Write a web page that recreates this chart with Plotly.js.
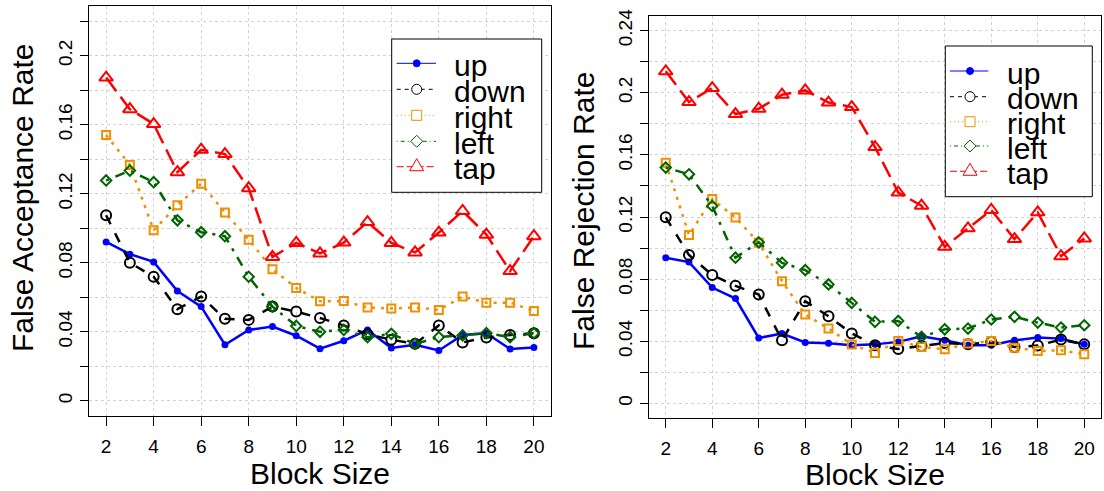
<!DOCTYPE html>
<html>
<head>
<meta charset="utf-8">
<script src="https://cdn.plot.ly/plotly-3.0.1.min.js"></script>
<style>
  html, body { margin: 0; padding: 0; background: #fff; }
  #chart { width: 1104px; height: 491px; }
</style>
</head>
<body>
<div id="chart"></div>
<script>
// Block sizes shared by both panels
const blockSize = [2, 3, 4, 5, 6, 7, 8, 9, 10, 11, 12, 13, 14, 15, 16, 17, 18, 19, 20];

// False acceptance rate per gesture
const farUp    = [0.0921, 0.0850, 0.0805, 0.0636, 0.0546, 0.0325, 0.0411, 0.0430, 0.0377, 0.0302, 0.0348, 0.0411, 0.0306, 0.0325, 0.0292, 0.0382, 0.0392, 0.0300, 0.0309];
const farDown  = [0.1075, 0.0800, 0.0719, 0.0531, 0.0604, 0.0475, 0.0469, 0.0546, 0.0517, 0.0480, 0.0437, 0.0386, 0.0354, 0.0330, 0.0437, 0.0338, 0.0367, 0.0382, 0.0392];
const farRight = [0.1540, 0.1367, 0.0988, 0.1133, 0.1258, 0.1092, 0.0934, 0.0763, 0.0654, 0.0577, 0.0578, 0.0541, 0.0535, 0.0541, 0.0527, 0.0604, 0.0569, 0.0569, 0.0521];
const farLeft  = [0.1277, 0.1334, 0.1267, 0.1046, 0.0977, 0.0954, 0.0719, 0.0546, 0.0434, 0.0400, 0.0411, 0.0369, 0.0388, 0.0330, 0.0369, 0.0379, 0.0392, 0.0369, 0.0392];
const farTap   = [0.1873, 0.1690, 0.1604, 0.1325, 0.1455, 0.1430, 0.1232, 0.0834, 0.0915, 0.0854, 0.0917, 0.1036, 0.0915, 0.0860, 0.0975, 0.1100, 0.0963, 0.0752, 0.0954];

// False rejection rate per gesture
const frrUp    = [0.0938, 0.0910, 0.0746, 0.0675, 0.0421, 0.0450, 0.0392, 0.0387, 0.0374, 0.0380, 0.0396, 0.0432, 0.0406, 0.0374, 0.0374, 0.0406, 0.0424, 0.0417, 0.0380];
const frrDown  = [0.1198, 0.0955, 0.0826, 0.0757, 0.0701, 0.0406, 0.0658, 0.0561, 0.0450, 0.0374, 0.0350, 0.0370, 0.0389, 0.0380, 0.0396, 0.0363, 0.0372, 0.0411, 0.0380];
const frrRight = [0.1550, 0.1084, 0.1316, 0.1196, 0.1034, 0.0787, 0.0572, 0.0482, 0.0379, 0.0325, 0.0402, 0.0363, 0.0348, 0.0385, 0.0402, 0.0359, 0.0338, 0.0342, 0.0316];
const frrLeft  = [0.1518, 0.1475, 0.1271, 0.0938, 0.1037, 0.0905, 0.0858, 0.0766, 0.0647, 0.0525, 0.0531, 0.0428, 0.0477, 0.0482, 0.0540, 0.0557, 0.0520, 0.0488, 0.0503];
const frrTap   = [0.2138, 0.1940, 0.2030, 0.1863, 0.1897, 0.1987, 0.2015, 0.1937, 0.1908, 0.1650, 0.1357, 0.1273, 0.1008, 0.1127, 0.1245, 0.1058, 0.1230, 0.0948, 0.1062];

const gestureNames = ['up', 'down', 'right', 'left', 'tap'];

// Axis ticks
const xTickVals = [2, 4, 6, 8, 10, 12, 14, 16, 18, 20];
const xTickText = ['2', '4', '6', '8', '10', '12', '14', '16', '18', '20'];
const farTickVals = [0, 0.02, 0.04, 0.06, 0.08, 0.10, 0.12, 0.14, 0.16, 0.18, 0.20, 0.22];
const farTickText = ['0', '', '0.04', '', '0.08', '', '0.12', '', '0.16', '', '0.2', ''];
const frrTickVals = [0, 0.02, 0.04, 0.06, 0.08, 0.10, 0.12, 0.14, 0.16, 0.18, 0.20, 0.22, 0.24];
const frrTickText = ['0', '', '0.04', '', '0.08', '', '0.12', '', '0.16', '', '0.2', '', '0.24'];

// Per-gesture styling
const styles = [
  { color: '#0000FF', dash: 'solid',             symbol: 'circle',            size: 7,  lw: 0 },
  { color: '#000000', dash: '10px,10px',         symbol: 'circle-open',       size: 10, lw: 2 },
  { color: '#F09000', dash: '3px,6px',           symbol: 'square-open',       size: 8,  lw: 2 },
  { color: '#006400', dash: '3px,7px,10px,7px',  symbol: 'diamond-open',      size: 8,  lw: 2 },
  { color: '#FF0000', dash: '17px,7px',          symbol: 'triangle-up-open',  size: 12, lw: 2 }
];

const farSeries = [farUp, farDown, farRight, farLeft, farTap];
const frrSeries = [frrUp, frrDown, frrRight, frrLeft, frrTap];

function makeTraces(series, xa, ya) {
  return series.map((vals, i) => ({
    type: 'scatter', mode: 'lines+markers',
    x: blockSize, y: vals, xaxis: xa, yaxis: ya,
    name: gestureNames[i], showlegend: false,
    line: { color: styles[i].color, width: 2.5, dash: styles[i].dash },
    marker: { symbol: styles[i].symbol, size: styles[i].size, color: styles[i].color,
              line: { color: styles[i].color, width: styles[i].lw } }
  }));
}

const traces = makeTraces(farSeries, 'x', 'y').concat(makeTraces(frrSeries, 'x2', 'y2'));

const W = 1104, H = 491;
const px = v => v / W;
const py = v => 1 - v / H;

const tickFont = { family: 'Liberation Sans, Arial, sans-serif', size: 19, color: '#000' };
const titleFont = { family: 'Liberation Sans, Arial, sans-serif', size: 30, color: '#000' };

function xAxis(domain, anchor) {
  return {
    domain: domain, anchor: anchor, range: [1.28, 20.72],
    tickmode: 'array', tickvals: xTickVals, ticktext: xTickText,
    ticks: 'outside', ticklen: 9, tickwidth: 1, tickcolor: '#000',
    ticklabelstandoff: 4,
    showline: true, linecolor: '#000', linewidth: 1, mirror: true,
    showgrid: true, gridcolor: '#D3D3D3', griddash: 'dot', gridwidth: 1,
    zeroline: false, tickfont: tickFont,
    title: { text: 'Block Size', font: titleFont, standoff: 5 }
  };
}
function yAxis(domain, anchor, range, vals, text) {
  return {
    domain: domain, anchor: anchor, range: range,
    tickmode: 'array', tickvals: vals, ticktext: text, tickangle: -90,
    ticks: 'outside', ticklen: 8, tickwidth: 1, tickcolor: '#000',
    showline: true, linecolor: '#000', linewidth: 1, mirror: true,
    showgrid: true, gridcolor: '#D3D3D3', griddash: 'dot', gridwidth: 1,
    zeroline: false, tickfont: tickFont
  };
}

// Hand-drawn legend boxes, keys and labels (in pixel positions on the page)
const shapes = [];
const annotations = [];
function addLegend(box, keyX0, keyX1, markX, textX, rows) {
  shapes.push({ type: 'rect', xref: 'paper', yref: 'paper',
    x0: px(box[0]), x1: px(box[1]), y0: py(box[2]), y1: py(box[3]),
    line: { color: '#000', width: 1 }, fillcolor: 'rgba(255,255,255,1)', layer: 'above' });
  rows.forEach((ry, i) => {
    const st = styles[i];
    shapes.push({ type: 'line', xref: 'paper', yref: 'paper',
      x0: px(keyX0), x1: px(keyX1), y0: py(ry), y1: py(ry),
      line: { color: st.color, width: 1, dash: ['solid', '4px,4px', '1px,3px', '1px,3px,4px,3px', '7px,3px'][i] },
      layer: 'above' });
    const base = { xref: 'paper', yref: 'paper', xsizemode: 'pixel', ysizemode: 'pixel',
      xanchor: px(markX), yanchor: py(ry), layer: 'above' };
    if (i === 0) {
      shapes.push(Object.assign({}, base, { type: 'circle', x0: -3.5, x1: 3.5, y0: -3.5, y1: 3.5,
        fillcolor: st.color, line: { color: st.color, width: 1 } }));
    } else if (i === 1) {
      shapes.push(Object.assign({}, base, { type: 'circle', x0: -5, x1: 5, y0: -5, y1: 5,
        fillcolor: '#fff', line: { color: st.color, width: 1 } }));
    } else if (i === 2) {
      shapes.push(Object.assign({}, base, { type: 'rect', x0: -5, x1: 5, y0: -5, y1: 5,
        fillcolor: '#fff', line: { color: st.color, width: 1 } }));
    } else if (i === 3) {
      shapes.push(Object.assign({}, base, { type: 'path', path: 'M-6,0 L0,6 L6,0 L0,-6 Z',
        fillcolor: '#fff', line: { color: st.color, width: 1 } }));
    } else {
      shapes.push(Object.assign({}, base, { type: 'path', path: 'M-7,-4 L7,-4 L0,8 Z',
        fillcolor: '#fff', line: { color: st.color, width: 1 } }));
    }
    annotations.push({ xref: 'paper', yref: 'paper', x: px(textX), y: py(ry + 2),
      xanchor: 'left', yanchor: 'middle', showarrow: false, text: gestureNames[i],
      font: titleFont });
  });
}
addLegend([391.7, 541.7, 39, 192.3], 396.7, 436, 416.7, 452, [63.3, 89.3, 115.3, 141.3, 166.7]);
addLegend([945.3, 1092.3, 46, 196.7], 950, 988.3, 970, 1004.5, [71, 96.7, 121.7, 146, 171.3]);

// Y axis titles
annotations.push({ xref: 'paper', yref: 'paper', x: px(23), y: py(198), textangle: -90,
  xanchor: 'center', yanchor: 'middle', showarrow: false, text: 'False Acceptance Rate', font: titleFont });
annotations.push({ xref: 'paper', yref: 'paper', x: px(583), y: py(211), textangle: -90,
  xanchor: 'center', yanchor: 'middle', showarrow: false, text: 'False Rejection Rate', font: titleFont });

const layout = {
  width: W, height: H,
  margin: { l: 0, r: 0, t: 0, b: 0 },
  paper_bgcolor: '#fff', plot_bgcolor: '#fff',
  showlegend: false,
  font: { family: 'Liberation Sans, Arial, sans-serif', color: '#000' },
  xaxis: xAxis([px(89), px(551)], 'y'),
  yaxis: yAxis([py(416), py(6)], 'x', [-0.0088, 0.2288], farTickVals, farTickText),
  xaxis2: xAxis([px(649), px(1101)], 'y2'),
  yaxis2: yAxis([py(418.3), py(15.7)], 'x2', [-0.0096, 0.2496], frrTickVals, frrTickText),
  shapes: shapes,
  annotations: annotations
};

Plotly.newPlot('chart', traces, layout, { displayModeBar: false, staticPlot: true });
</script>
</body>
</html>
